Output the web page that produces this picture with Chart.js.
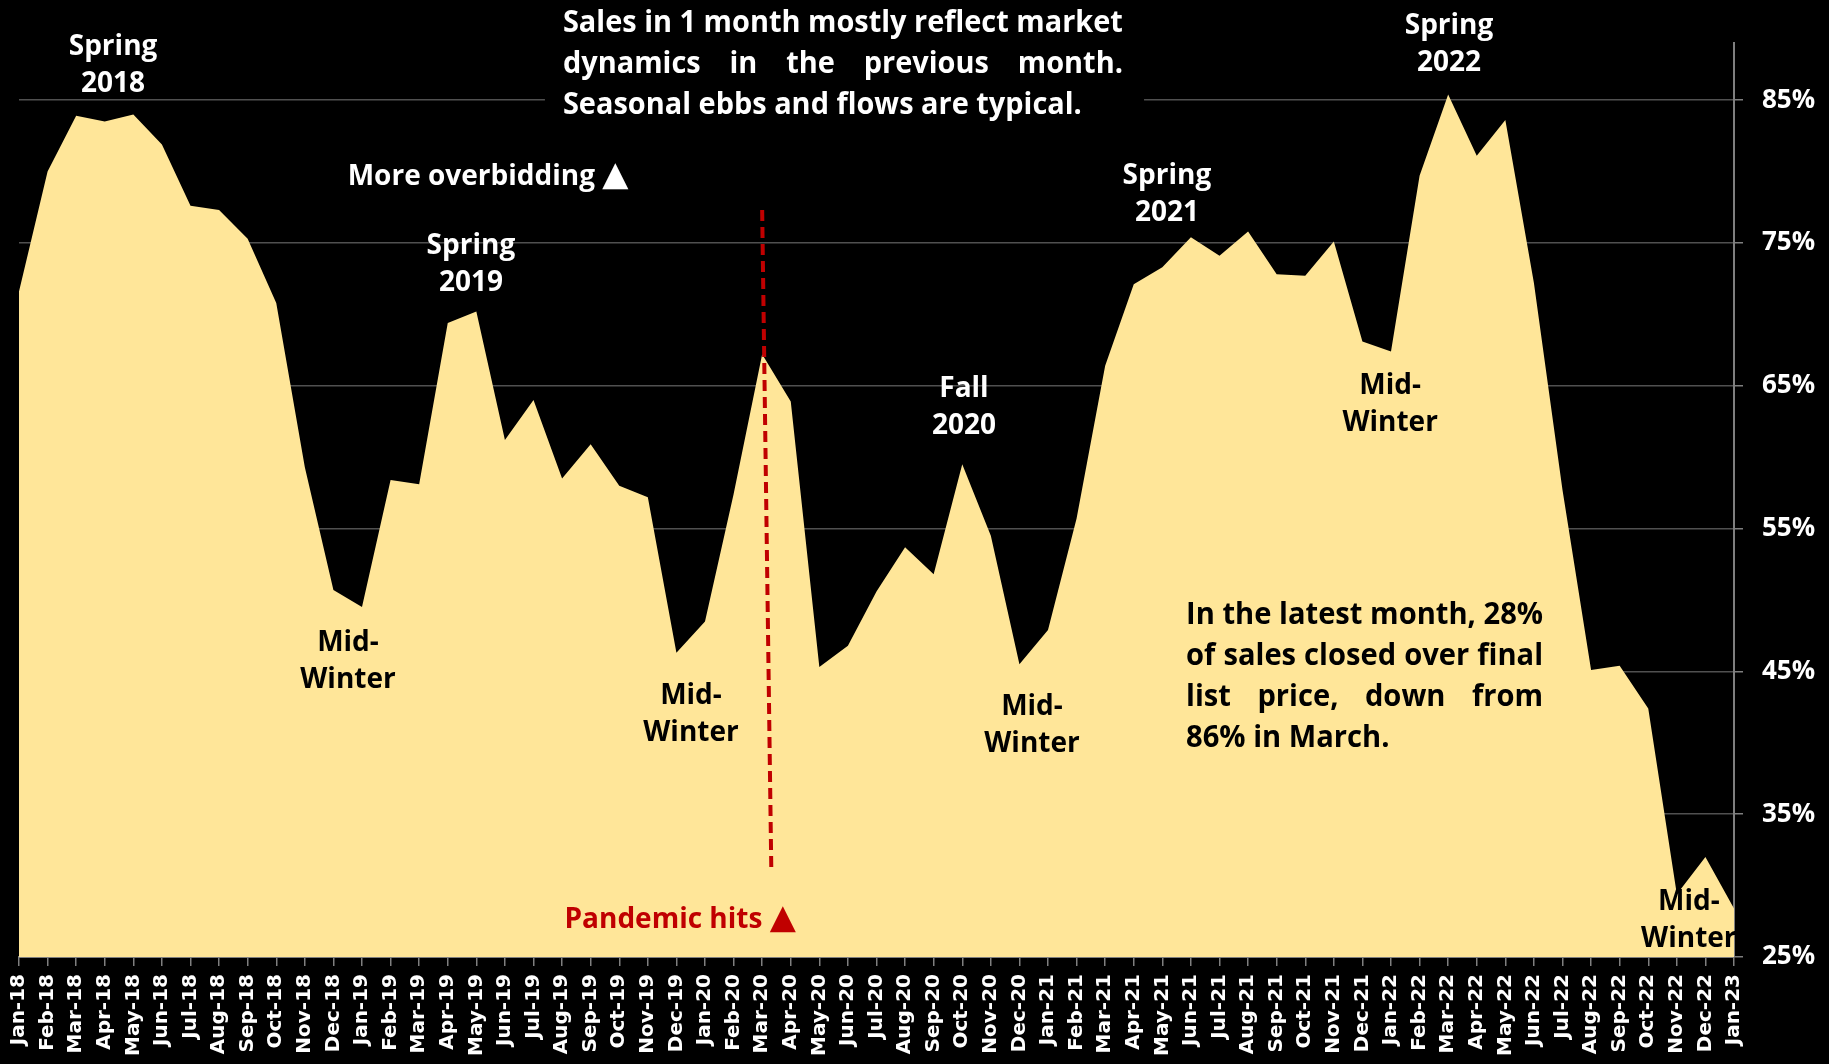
<!DOCTYPE html>
<html><head><meta charset="utf-8">
<script src="https://cdn.jsdelivr.net/npm/chart.js@4.4.1/dist/chart.umd.min.js"></script>
<style>html,body{margin:0;padding:0;background:#000;overflow:hidden}</style>
</head><body>
<canvas id="c" width="1829" height="1064"></canvas>
<script>
// ---------- DATA ----------
const months = ['Jan-18','Feb-18','Mar-18','Apr-18','May-18','Jun-18','Jul-18','Aug-18','Sep-18','Oct-18','Nov-18','Dec-18',
 'Jan-19','Feb-19','Mar-19','Apr-19','May-19','Jun-19','Jul-19','Aug-19','Sep-19','Oct-19','Nov-19','Dec-19',
 'Jan-20','Feb-20','Mar-20','Apr-20','May-20','Jun-20','Jul-20','Aug-20','Sep-20','Oct-20','Nov-20','Dec-20',
 'Jan-21','Feb-21','Mar-21','Apr-21','May-21','Jun-21','Jul-21','Aug-21','Sep-21','Oct-21','Nov-21','Dec-21',
 'Jan-22','Feb-22','Mar-22','Apr-22','May-22','Jun-22','Jul-22','Aug-22','Sep-22','Oct-22','Nov-22','Dec-22','Jan-23'];
const pctSoldOverList = [71.6,80.0,83.9,83.5,84.0,81.9,77.6,77.3,75.3,70.8,59.3,50.7,
 49.5,58.4,58.1,69.4,70.2,61.2,64.0,58.5,60.9,58.0,57.2,46.3,
 48.5,57.4,67.2,63.9,45.3,46.8,50.6,53.7,51.8,59.5,54.5,45.5,
 47.9,55.7,66.4,72.1,73.3,75.4,74.1,75.8,72.8,72.7,75.1,68.1,
 67.4,79.7,85.4,81.1,83.6,72.2,57.7,45.1,45.4,42.4,29.4,32.0,28.4];
const yTickValues = [25,35,45,55,65,75,85];
const yMin = 25, yMax = 89;

// annotation texts
const topNote = ['Sales in 1 month mostly reflect market','dynamics in the previous month.','Seasonal ebbs and flows are typical.'];
const latestNote = ['In the latest month, 28%','of sales closed over final','list price, down from','86% in March.'];
const seasonLabels = [['Spring','2018'],['Spring','2019'],['Mid-','Winter'],['Mid-','Winter'],['Fall','2020'],['Mid-','Winter'],['Spring','2021'],['Mid-','Winter'],['Spring','2022'],['Mid-','Winter']];
const seasonAt = [[3.29,88.7],[15.81,74.8],[11.51,47.0],[23.51,43.3],[33.06,64.8],[35.44,42.5],[40.16,79.7],[47.97,65.0],[50.03,90.2],[58.42,28.85]];
const seasonDark = [false,false,true,true,false,true,false,true,false,true];
const pandemicIdx = 26; // Mar-20

// ---------- DRAW ----------
const FONT = '"Open Sans", Lato, sans-serif';
function justified(ctx, lines, x0, x1, yFirst, lh) {
  const W = x1 - x0;
  let sx = 1;
  lines.forEach((l, i) => {
    if (i === lines.length - 1) return;
    const nat = ctx.measureText(l).width;
    sx = Math.min(sx, W / nat);
  });
  lines.forEach((l, i) => {
    const y = yFirst + i * lh;
    ctx.save(); ctx.translate(x0, y); ctx.scale(sx, 1);
    ctx.textAlign = 'left';
    if (i === lines.length - 1) { ctx.fillText(l, 0, 0); ctx.restore(); return; }
    const words = l.split(' ');
    const ww = words.map(w => ctx.measureText(w).width);
    const tot = ww.reduce((a, b) => a + b, 0);
    const gap = (W / sx - tot) / (words.length - 1);
    let cx = 0;
    words.forEach((w, k) => { ctx.fillText(w, cx, 0); cx += ww[k] + gap; });
    ctx.restore();
  });
}
function textWithTriangle(ctx, text, cx, cy) {
  ctx.font = 'bold 28px ' + FONT;
  const tw = ctx.measureText(text + ' ').width;
  ctx.font = 'bold 34px "DejaVu Sans", sans-serif';
  const triW = ctx.measureText('\u25B2').width;
  const x0 = cx - (tw + triW) / 2;
  ctx.textAlign = 'left';
  ctx.font = 'bold 28px ' + FONT;
  ctx.fillText(text + ' ', x0, cy);
  ctx.font = 'bold 34px "DejaVu Sans", sans-serif';
  ctx.fillText('\u25B2', x0 + tw, cy - 1);
  ctx.textAlign = 'center';
}

const notes = {
  id: 'notes',
  beforeDatasetsDraw(chart) {
    const {ctx, scales: {x, y}} = chart;
    ctx.save();
    ctx.fillStyle = '#000';
    const bx0 = x.getPixelForValue(18.4), bx1 = x.getPixelForValue(39.36);
    ctx.fillRect(bx0, 0, bx1 - bx0, y.getPixelForValue(83.3));
    ctx.restore();
  },
  afterDatasetsDraw(chart) {
    const {ctx, scales: {x, y}} = chart;
    ctx.save();
    // pandemic line
    ctx.strokeStyle = '#C00000'; ctx.lineWidth = 4; ctx.setLineDash([11, 6]);
    ctx.beginPath();
    ctx.moveTo(x.getPixelForValue(pandemicIdx), y.getPixelForValue(77.3));
    ctx.lineTo(x.getPixelForValue(pandemicIdx + 0.32), y.getPixelForValue(31.1));
    ctx.stroke();
    ctx.setLineDash([]);

    ctx.font = 'bold 28px ' + FONT;
    ctx.textBaseline = 'middle';
    ctx.textAlign = 'center';
    seasonLabels.forEach((lines, i) => {
      ctx.fillStyle = seasonDark[i] ? '#000' : '#fff';
      const px = x.getPixelForValue(seasonAt[i][0]);
      const py = y.getPixelForValue(seasonAt[i][1]);
      lines.forEach((t, k) => ctx.fillText(t, px, py + k * 37));
    });
    ctx.fillStyle = '#fff';
    textWithTriangle(ctx, 'More overbidding', x.getPixelForValue(16.41), y.getPixelForValue(79.6));
    ctx.fillStyle = '#C00000';
    textWithTriangle(ctx, 'Pandemic hits', x.getPixelForValue(23.13), y.getPixelForValue(27.6));

    ctx.font = 'bold 30px ' + FONT;
    ctx.fillStyle = '#fff';
    justified(ctx, topNote, x.getPixelForValue(19.03), x.getPixelForValue(38.62), y.getPixelForValue(90.4), 41);
    ctx.fillStyle = '#000';
    justified(ctx, latestNote, x.getPixelForValue(40.83), x.getPixelForValue(53.32), y.getPixelForValue(48.9), 41);
    ctx.restore();
  }
};

new Chart(document.getElementById('c'), {
  type: 'line',
  data: { labels: months, datasets: [{ data: pctSoldOverList, fill: 'start', backgroundColor: '#FFE699',
    borderWidth: 0, pointRadius: 0, tension: 0 }] },
  options: {
    responsive: false, animation: false, devicePixelRatio: 1,
    layout: { padding: { left: 19, top: 43, right: 0, bottom: 0 } },
    plugins: { legend: { display: false }, tooltip: { enabled: false } },
    scales: {
      x: {
        offset: false,
        grid: { display: true, drawOnChartArea: false, drawTicks: true, tickLength: 9, color: '#7f7f7f', lineWidth: 1.5 },
        border: { display: true, color: '#7f7f7f', width: 2 },
        ticks: { color: '#fff', font: { family: 'DejaVu Sans', weight: 'bold', size: 20 }, minRotation: 90, maxRotation: 90, autoSkip: false, padding: 8 },
        afterFit(s) { s.height = 107; }
      },
      y: {
        position: 'right', min: yMin, max: yMax,
        afterBuildTicks(s) { s.ticks = yTickValues.map(v => ({ value: v })); },
        grid: { color: '#505050', lineWidth: 1.5, tickLength: 9, drawTicks: true, tickColor: '#7f7f7f' },
        border: { display: true, color: '#7f7f7f', width: 2 },
        ticks: { color: '#fff', font: { family: FONT, weight: 'bold', size: 26 }, padding: 19, callback: v => v + '%' },
        afterFit(s) { s.width = 95; }
      }
    }
  },
  plugins: [notes]
});
</script>
</body></html>
